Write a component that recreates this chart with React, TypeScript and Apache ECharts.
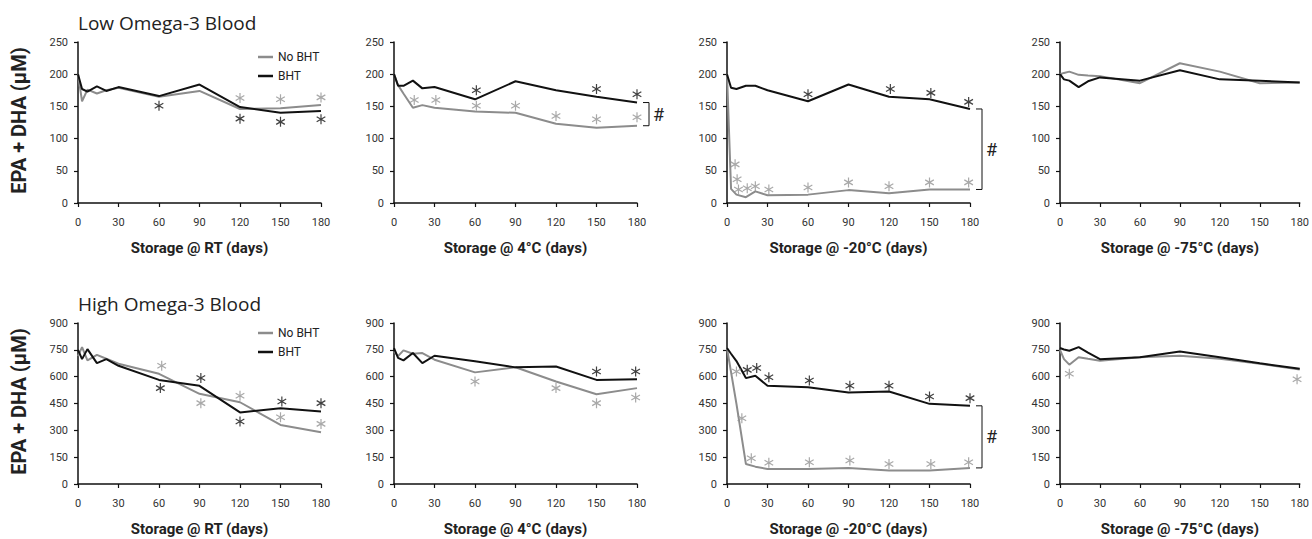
import React, { useEffect, useRef } from 'react';
import * as echarts from 'echarts';

// ---- data ----
const DAYS = [0, 3, 7, 14, 21, 30, 60, 90, 120, 150, 180];

const LOW_RT_NO = [200, 158, 176, 170, 175, 179, 165, 174, 146, 147, 152];
const LOW_RT_BHT = [200, 177, 173, 181, 174, 180, 166, 184, 149, 140, 143];
const LOW_C4_NO = [200, 183, 170, 148, 152, 148, 142, 140, 123, 117, 120];
const LOW_C4_BHT = [200, 182, 182, 190, 178, 180, 161, 189, 175, 165, 156];
const LOW_M20_NO = [200, 22, 13, 9, 18, 12, 13, 20, 15, 21, 21];
const LOW_M20_BHT = [200, 179, 177, 182, 182, 175, 158, 184, 165, 161, 146];
const LOW_M75_NO = [200, 202, 204, 199, 198, 197, 186, 217, 204, 186, 187];
const LOW_M75_BHT = [200, 192, 190, 180, 189, 195, 190, 206, 192, 190, 187];

const HIGH_RT_NO = [715, 765, 691, 722, 700, 672, 616, 504, 457, 330, 289];
const HIGH_RT_BHT = [750, 698, 754, 676, 698, 661, 582, 549, 400, 424, 405];
const HIGH_C4_NO = [741, 715, 747, 728, 732, 695, 624, 653, 573, 502, 536];
const HIGH_C4_BHT = [760, 705, 691, 732, 676, 717, 686, 652, 657, 582, 586];
const HIGH_M20_NO = [760, 625, 448, 112, 97, 84, 84, 90, 76, 76, 90];
const HIGH_M20_BHT = [760, 728, 687, 592, 605, 549, 541, 512, 517, 448, 437];
const HIGH_M75_NO = [750, 698, 667, 709, 700, 689, 709, 717, 700, 672, 640];
const HIGH_M75_BHT = [760, 752, 745, 765, 735, 698, 709, 741, 709, 675, 644];

// significance asterisks [day, value]
const LOW_RT_STAR_NO = [[120, 163], [150, 161], [180, 164]];
const LOW_RT_STAR_BHT = [[60, 151], [120, 131], [150, 126], [180, 130]];
const LOW_C4_STAR_NO = [[15, 160], [31, 160], [61, 151], [90, 151], [120, 135], [150, 130], [180, 133]];
const LOW_C4_STAR_BHT = [[61, 175], [150, 177], [180, 169]];
const LOW_M20_STAR_NO = [[6, 60], [7.5, 37], [8.5, 21], [15, 23], [21, 26], [31, 21], [60, 24], [90, 32], [120, 26], [150, 32], [179, 32]];
const LOW_M20_STAR_BHT = [[60, 169], [121, 177], [151, 171], [179, 157]];
const LOW_M75_STAR_NO: number[][] = [];
const LOW_M75_STAR_BHT: number[][] = [];
const HIGH_RT_STAR_NO = [[62, 661], [91, 452], [120, 493], [150, 373], [180, 336]];
const HIGH_RT_STAR_BHT = [[61, 536], [91, 592], [120, 349], [151, 461], [180, 452]];
const HIGH_C4_STAR_NO = [[60, 573], [120, 536], [150, 452], [179, 484]];
const HIGH_C4_STAR_BHT = [[150, 629], [179, 629]];
const HIGH_M20_STAR_NO = [[7, 629], [11, 368], [18, 144], [31, 119], [61, 121], [91, 131], [120, 112], [151, 112], [179, 121]];
const HIGH_M20_STAR_BHT = [[15, 638], [22, 648], [31, 597], [61, 579], [91, 549], [120, 549], [150, 489], [180, 480]];
const HIGH_M75_STAR_NO = [[7, 616], [178, 586]];
const HIGH_M75_STAR_BHT: number[][] = [];

const X_TITLES = ['Storage @ RT (days)', 'Storage @ 4\u00b0C (days)', 'Storage @ -20\u00b0C (days)', 'Storage @ -75\u00b0C (days)'];
const ROW_TITLES = ['Low Omega-3 Blood', 'High Omega-3 Blood'];
const Y_TITLE = 'EPA + DHA (\u03bcM)';
const SERIES_NAMES = ['No BHT', 'BHT'];
const Y_MAX = [250, 900];
const Y_STEP = [50, 150];

const PANELS = [
  { row: 0, col: 0, no: LOW_RT_NO, bht: LOW_RT_BHT, sNo: LOW_RT_STAR_NO, sBht: LOW_RT_STAR_BHT },
  { row: 0, col: 1, no: LOW_C4_NO, bht: LOW_C4_BHT, sNo: LOW_C4_STAR_NO, sBht: LOW_C4_STAR_BHT },
  { row: 0, col: 2, no: LOW_M20_NO, bht: LOW_M20_BHT, sNo: LOW_M20_STAR_NO, sBht: LOW_M20_STAR_BHT },
  { row: 0, col: 3, no: LOW_M75_NO, bht: LOW_M75_BHT, sNo: LOW_M75_STAR_NO, sBht: LOW_M75_STAR_BHT },
  { row: 1, col: 0, no: HIGH_RT_NO, bht: HIGH_RT_BHT, sNo: HIGH_RT_STAR_NO, sBht: HIGH_RT_STAR_BHT },
  { row: 1, col: 1, no: HIGH_C4_NO, bht: HIGH_C4_BHT, sNo: HIGH_C4_STAR_NO, sBht: HIGH_C4_STAR_BHT },
  { row: 1, col: 2, no: HIGH_M20_NO, bht: HIGH_M20_BHT, sNo: HIGH_M20_STAR_NO, sBht: HIGH_M20_STAR_BHT },
  { row: 1, col: 3, no: HIGH_M75_NO, bht: HIGH_M75_BHT, sNo: HIGH_M75_STAR_NO, sBht: HIGH_M75_STAR_BHT },
];

// panels with a significance bracket between BHT and No BHT at day 180
const BRACKET_PANELS = [1, 2, 6];

// ---- layout / style ----
const GRID_LEFT = [78, 394, 727, 1060];
const GRID_TOP = [42, 323];
const GRID_W = 243;
const GRID_H = 161;
const GRAY = '#8c8c8c';
const STAR_GRAY = '#939393';
const BLACK = '#111111';
const STAR = 'path://M-1.2,-10L1.2,-10L1.2,10L-1.2,10Z M-9.26,-3.96L-8.06,-6.04L9.26,3.96L8.06,6.04Z M8.06,-6.04L9.26,-3.96L-8.06,6.04L-9.26,3.96Z';
const FONT = 'Roboto, "Open Sans", sans-serif';

export default function App() {
  const ref = useRef<HTMLDivElement>(null);
  useEffect(() => {
    if (!ref.current) return;
    const chart = echarts.init(ref.current, undefined, { renderer: 'svg' });

    const grid: any[] = [];
    const xAxis: any[] = [];
    const yAxis: any[] = [];
    const series: any[] = [];

    PANELS.forEach((p, i) => {
      grid.push({ left: GRID_LEFT[p.col], top: GRID_TOP[p.row], width: GRID_W, height: GRID_H, containLabel: false });
      xAxis.push({
        type: 'value', gridIndex: i, min: 0, max: 180, interval: 30,
        name: X_TITLES[p.col], nameLocation: 'middle', nameGap: 37,
        nameTextStyle: { fontFamily: FONT, fontWeight: 'bold', fontSize: 15, color: '#222' },
        axisLine: { show: true, onZero: false, lineStyle: { color: '#111', width: 1.5 } },
        axisTick: { show: true, length: 4, lineStyle: { color: '#111', width: 1.2 } },
        axisLabel: { fontFamily: FONT, fontSize: 11, color: '#333', margin: 14 },
        splitLine: { show: false },
      });
      yAxis.push({
        type: 'value', gridIndex: i, min: 0, max: Y_MAX[p.row], interval: Y_STEP[p.row],
        axisLine: { show: true, lineStyle: { color: '#111', width: 1.5 } },
        axisTick: { show: true, length: 4, lineStyle: { color: '#111', width: 1.2 } },
        axisLabel: { fontFamily: FONT, fontSize: 11, color: '#333', margin: 10 },
        splitLine: { show: false },
      });
      series.push({
        type: 'line', name: SERIES_NAMES[0], xAxisIndex: i, yAxisIndex: i, symbol: 'none',
        lineStyle: { color: GRAY, width: 2 }, itemStyle: { color: GRAY },
        data: DAYS.map((d, k) => [d, p.no[k]]), z: 2,
      });
      series.push({
        type: 'line', name: SERIES_NAMES[1], xAxisIndex: i, yAxisIndex: i, symbol: 'none',
        lineStyle: { color: BLACK, width: 2 }, itemStyle: { color: BLACK },
        data: DAYS.map((d, k) => [d, p.bht[k]]), z: 3,
      });
      series.push({
        type: 'scatter', name: 'No BHT *', xAxisIndex: i, yAxisIndex: i, symbol: STAR, symbolSize: 10,
        symbolKeepAspect: true, itemStyle: { color: STAR_GRAY }, data: p.sNo, z: 4, silent: true,
      });
      series.push({
        type: 'scatter', name: 'BHT *', xAxisIndex: i, yAxisIndex: i, symbol: STAR, symbolSize: 10,
        symbolKeepAspect: true, itemStyle: { color: BLACK }, data: p.sBht, z: 5, silent: true,
      });
    });

    const legendBase = {
      data: SERIES_NAMES, orient: 'vertical', left: 258, icon: 'rect', itemWidth: 15, itemHeight: 2.5, itemGap: 7,
      padding: 0, textStyle: { fontFamily: FONT, fontSize: 12, color: '#222', lineHeight: 12 },
      selectedMode: false,
    };

    const graphic: any[] = [];
    ROW_TITLES.forEach((t, r) => {
      graphic.push({
        type: 'text', left: 78, top: GRID_TOP[r] - 29,
        style: { text: t, font: `19px "Open Sans", Roboto, sans-serif`, fill: '#222' },
      });
      graphic.push({
        type: 'text', x: 19, y: GRID_TOP[r] + GRID_H / 2 - 2, rotation: Math.PI / 2,
        style: { text: Y_TITLE, x: 0, y: 0, textAlign: 'center', textVerticalAlign: 'middle', font: `bold 20px ${FONT}`, fill: '#222' },
      });
    });

    chart.setOption({
      animation: false,
      backgroundColor: '#ffffff',
      grid, xAxis, yAxis, series,
      legend: [
        { ...legendBase, top: GRID_TOP[0] + 9 },
        { ...legendBase, top: GRID_TOP[1] + 4 },
      ],
      graphic,
    });

    // significance brackets computed from the data ends
    BRACKET_PANELS.forEach((pi) => {
      const p = PANELS[pi];
      const a = chart.convertToPixel({ gridIndex: pi } as any, [180, p.bht[p.bht.length - 1]]) as number[];
      const b = chart.convertToPixel({ gridIndex: pi } as any, [180, p.no[p.no.length - 1]]) as number[];
      const x0 = a[0] + 6;
      const x1 = a[0] + 12;
      graphic.push({
        type: 'polyline',
        shape: { points: [[x0, a[1]], [x1, a[1]], [x1, b[1]], [x0, b[1]]] },
        style: { stroke: '#111', lineWidth: 1, fill: null },
      });
      graphic.push({
        type: 'text', x: x1 + 4, y: (a[1] + b[1]) / 2,
        style: { text: '#', textVerticalAlign: 'middle', font: `18px ${FONT}`, fill: '#222' },
      });
    });
    chart.setOption({ graphic });

    return () => chart.dispose();
  }, []);

  return <div ref={ref} style={{ position: 'absolute', left: 0, top: 0, width: 1312, height: 539, background: '#fff' }} />;
}
